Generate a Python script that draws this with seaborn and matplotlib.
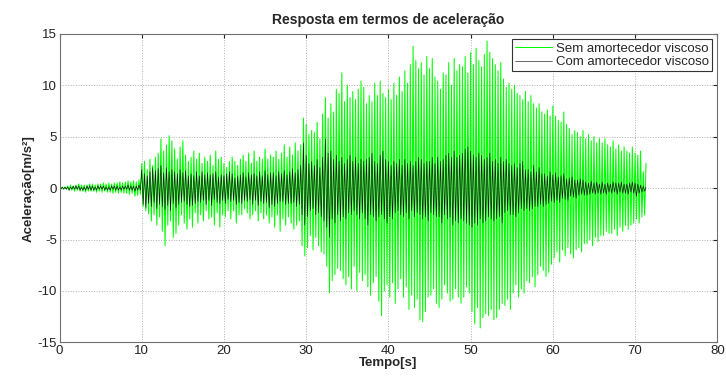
import numpy as np
import pandas as pd
import seaborn as sns
import matplotlib.pyplot as plt

# picos, 6 meios-ciclos por segundo (uma linha = 1 s)
sem_amort = [
    [0.0, -0.1, 0.1, -0.1, 0.1, -0.1],
    [0.2, -0.2, 0.3, -0.2, 0.2, -0.3],
    [0.3, -0.2, 0.4, -0.3, 0.3, -0.3],
    [0.3, -0.4, 0.3, -0.3, 0.4, -0.3],
    [0.4, -0.3, 0.3, -0.4, 0.4, -0.3],
    [0.4, -0.4, 0.5, -0.3, 0.4, -0.4],
    [0.5, -0.4, 0.4, -0.5, 0.5, -0.4],
    [0.5, -0.5, 0.6, -0.4, 0.5, -0.5],
    [0.6, -0.5, 0.7, -0.6, 0.6, -0.5],
    [0.7, -0.8, 0.6, -0.7, 0.8, -0.6],
    [2.4, -1.8, 2.6, -2.2, 1.8, -2.5],
    [2.8, -3.2, 2.2, -2.6, 3.0, -3.6],
    [3.4, -2.8, 4.8, -4.2, 3.6, -5.6],
    [4.2, -3.6, 5.1, -3.2, 4.6, -4.8],
    [3.8, -4.4, 2.8, -3.6, 4.0, -2.6],
    [4.6, -3.4, 3.2, -4.0, 2.6, -3.0],
    [3.0, -3.8, 3.6, -2.4, 2.8, -3.4],
    [3.4, -2.6, 2.4, -3.2, 3.0, -2.2],
    [2.6, -3.0, 3.2, -2.8, 2.2, -3.6],
    [3.6, -2.4, 2.8, -3.8, 3.0, -2.6],
    [2.4, -2.8, 2.0, -2.2, 2.6, -3.0],
    [3.0, -2.2, 2.6, -3.4, 2.2, -2.6],
    [2.8, -2.6, 3.2, -2.0, 2.6, -2.4],
    [3.4, -3.0, 2.4, -2.6, 3.6, -2.2],
    [2.6, -3.2, 3.0, -2.4, 2.8, -3.0],
    [3.8, -2.6, 2.8, -3.4, 3.2, -2.8],
    [3.0, -3.8, 3.6, -2.6, 2.8, -4.2],
    [3.4, -3.0, 4.2, -3.6, 3.0, -2.8],
    [4.0, -3.4, 3.2, -4.0, 4.4, -3.6],
    [3.6, -3.2, 4.2, -5.6, 6.8, -6.6],
    [6.2, -5.8, 5.2, -4.6, 5.6, -6.0],
    [5.4, -4.8, 6.4, -5.6, 4.8, -6.2],
    [7.2, -6.4, 8.8, -7.6, 6.8, -10.2],
    [8.2, -9.0, 7.4, -8.4, 9.6, -7.8],
    [9.2, -8.0, 11.2, -8.8, 8.4, -9.4],
    [10.0, -8.6, 8.8, -9.8, 9.4, -7.6],
    [8.6, -10.0, 9.6, -8.2, 10.4, -9.0],
    [9.8, -8.4, 8.2, -9.6, 9.0, -10.4],
    [8.4, -9.2, 10.2, -8.6, 9.0, -11.0],
    [10.4, -12.4, 9.2, -10.0, 8.8, -9.4],
    [9.6, -10.6, 8.6, -9.2, 10.2, -11.2],
    [9.0, -9.8, 10.8, -8.8, 9.4, -10.6],
    [11.4, -9.6, 10.2, -11.8, 12.0, -10.4],
    [13.8, -11.6, 12.4, -10.8, 11.6, -12.8],
    [12.2, -13.0, 11.0, -12.0, 12.8, -10.6],
    [11.6, -10.4, 12.6, -9.8, 10.8, -11.2],
    [10.4, -11.6, 9.6, -10.8, 11.2, -9.4],
    [11.0, -10.2, 12.2, -11.0, 10.0, -10.8],
    [12.6, -9.8, 11.4, -10.6, 12.0, -11.2],
    [11.8, -10.6, 12.8, -9.6, 11.2, -10.2],
    [13.2, -12.0, 12.0, -13.2, 13.6, -11.6],
    [12.4, -13.6, 11.8, -12.6, 13.0, -12.2],
    [14.3, -12.4, 13.2, -11.8, 12.6, -12.8],
    [12.0, -12.6, 11.4, -11.8, 12.2, -11.2],
    [10.6, -11.4, 9.8, -10.8, 10.2, -11.8],
    [9.6, -10.2, 10.0, -9.4, 9.2, -10.6],
    [9.0, -9.8, 8.6, -10.2, 9.4, -9.0],
    [8.4, -9.2, 9.0, -8.6, 8.2, -9.6],
    [7.8, -8.4, 8.2, -7.6, 7.4, -8.0],
    [7.2, -8.6, 7.6, -8.2, 7.0, -7.4],
    [8.0, -6.8, 7.0, -6.2, 6.6, -7.2],
    [6.4, -6.0, 7.4, -6.6, 6.2, -5.8],
    [5.8, -6.4, 5.2, -6.8, 5.6, -6.0],
    [5.4, -5.8, 5.0, -6.2, 5.6, -5.4],
    [4.8, -5.4, 5.2, -5.0, 4.6, -5.6],
    [5.0, -4.8, 4.4, -5.2, 4.8, -4.6],
    [4.4, -4.6, 4.8, -4.2, 4.2, -4.4],
    [4.0, -4.4, 4.6, -4.0, 3.8, -4.6],
    [4.2, -3.8, 3.6, -4.2, 4.0, -3.6],
    [3.6, -4.0, 3.4, -3.6, 4.0, -3.4],
    [3.4, -3.0, 3.2, -3.4, 3.6, -2.8],
    [1.6, -2.6, 2.4],
]

com_amort = [
    [0.0, -0.1, 0.1, -0.1, 0.1, -0.1],
    [0.1, -0.2, 0.1, -0.1, 0.2, -0.1],
    [0.2, -0.1, 0.2, -0.2, 0.1, -0.2],
    [0.1, -0.2, 0.2, -0.1, 0.2, -0.2],
    [0.2, -0.2, 0.1, -0.2, 0.2, -0.1],
    [0.2, -0.1, 0.2, -0.2, 0.1, -0.2],
    [0.1, -0.2, 0.2, -0.1, 0.2, -0.2],
    [0.2, -0.2, 0.1, -0.2, 0.2, -0.1],
    [0.2, -0.1, 0.3, -0.2, 0.2, -0.2],
    [0.2, -0.3, 0.2, -0.2, 0.3, -0.2],
    [1.8, -1.6, 1.4, -1.9, 1.2, -1.5],
    [1.6, -1.8, 2.0, -1.4, 1.7, -2.0],
    [1.9, -1.6, 2.2, -1.8, 1.5, -2.1],
    [2.0, -1.7, 1.6, -2.2, 1.8, -1.5],
    [1.6, -1.9, 1.4, -1.6, 1.8, -1.4],
    [1.5, -1.3, 1.7, -1.6, 1.2, -1.8],
    [1.4, -1.7, 1.2, -1.5, 1.6, -1.3],
    [1.2, -1.4, 1.6, -1.2, 1.3, -1.6],
    [1.5, -1.2, 1.3, -1.7, 1.4, -1.1],
    [1.6, -1.4, 1.1, -1.5, 1.3, -1.2],
    [1.2, -1.5, 1.4, -1.1, 1.6, -1.3],
    [1.4, -1.2, 1.0, -1.6, 1.2, -1.4],
    [1.3, -1.5, 1.5, -1.2, 1.1, -1.3],
    [1.5, -1.1, 1.3, -1.6, 1.4, -1.2],
    [1.2, -1.7, 1.6, -1.3, 1.2, -1.5],
    [1.7, -1.4, 1.3, -1.9, 1.5, -1.6],
    [1.5, -1.8, 1.2, -1.5, 1.6, -1.3],
    [1.4, -1.3, 1.7, -1.6, 1.3, -1.5],
    [1.6, -1.5, 1.9, -1.4, 1.5, -1.8],
    [1.8, -1.6, 2.2, -2.6, 4.4, -3.6],
    [3.2, -2.8, 2.4, -2.2, 2.6, -2.0],
    [2.2, -2.6, 2.8, -2.4, 2.0, -2.8],
    [3.0, -3.2, 4.8, -3.8, 3.4, -4.8],
    [3.6, -3.0, 2.8, -3.4, 3.2, -2.6],
    [2.6, -3.2, 3.0, -2.8, 2.4, -3.0],
    [2.8, -2.4, 3.2, -2.6, 2.6, -2.2],
    [3.0, -2.6, 2.4, -3.0, 2.8, -2.4],
    [2.6, -3.0, 2.8, -3.6, 3.0, -2.6],
    [3.4, -2.8, 2.6, -3.2, 2.4, -2.8],
    [3.2, -2.6, 3.6, -3.0, 2.8, -3.4],
    [2.6, -2.8, 2.2, -3.0, 2.6, -2.4],
    [2.4, -2.2, 2.8, -2.6, 2.2, -2.8],
    [2.8, -2.4, 2.4, -3.0, 2.6, -2.2],
    [2.2, -2.8, 2.6, -2.4, 3.0, -2.6],
    [2.8, -3.0, 2.4, -2.8, 2.6, -3.2],
    [2.6, -2.4, 3.0, -2.6, 2.4, -2.8],
    [3.0, -2.8, 2.6, -3.4, 2.8, -2.6],
    [3.2, -3.0, 3.4, -2.8, 3.0, -3.6],
    [3.6, -3.2, 3.0, -3.4, 3.2, -3.0],
    [3.4, -3.2, 3.8, -3.4, 4.0, -3.6],
    [3.6, -3.8, 3.2, -3.4, 3.0, -3.6],
    [3.4, -3.0, 3.2, -3.4, 2.8, -3.2],
    [3.0, -2.8, 3.4, -3.0, 2.6, -3.2],
    [2.8, -3.0, 2.4, -2.8, 3.0, -3.4],
    [2.6, -2.4, 2.8, -2.2, 2.4, -2.6],
    [2.2, -2.6, 2.4, -2.8, 2.0, -2.4],
    [2.4, -2.0, 2.6, -2.2, 1.8, -2.0],
    [1.8, -2.2, 1.6, -2.0, 2.2, -1.8],
    [1.6, -1.8, 2.0, -1.6, 1.4, -1.8],
    [1.4, -1.6, 1.2, -1.5, 1.6, -1.3],
    [1.3, -1.4, 1.5, -1.2, 1.1, -1.4],
    [1.2, -1.0, 1.4, -1.1, 0.9, -1.2],
    [1.0, -0.8, 1.1, -0.9, 0.8, -1.0],
    [0.8, -0.7, 0.9, -0.6, 0.8, -0.7],
    [0.6, -0.7, 0.5, -0.6, 0.7, -0.5],
    [0.5, -0.6, 0.6, -0.5, 0.4, -0.6],
    [0.6, -0.5, 0.4, -0.6, 0.5, -0.4],
    [0.4, -0.5, 0.6, -0.4, 0.5, -0.6],
    [0.5, -0.4, 0.6, -0.5, 0.4, -0.5],
    [0.4, -0.6, 0.5, -0.4, 0.6, -0.5],
    [0.5, -0.8, 0.4, -0.5, 0.3, -0.4],
    [0.2, -0.3, 0.1],
]

picos_por_s = 6
x_ticks = [0, 10, 20, 30, 40, 50, 60, 70, 80]
y_ticks = [-15, -10, -5, 0, 5, 10, 15]


def serie(linhas):
    y = np.concatenate([np.array(l) for l in linhas])
    t = np.arange(len(y)) / picos_por_s
    return pd.DataFrame({'t': t, 'a': y})


sns.set_style("whitegrid", {'grid.linestyle': ':', 'grid.color': '#b0b0b0',
                            'axes.edgecolor': '#707070'})
plt.rcParams['font.family'] = ['Liberation Sans', 'DejaVu Sans']
plt.rcParams['axes.unicode_minus'] = False

fig = plt.figure(figsize=(7.26, 3.8), dpi=100)
ax = fig.add_axes([0.082, 0.099, 0.906, 0.812])

df_sem = serie(sem_amort)
df_com = serie(com_amort)
sns.lineplot(data=df_sem, x='t', y='a', ax=ax, color='#00ff00', linewidth=0.75,
             estimator=None, sort=False, label='Sem amortecedor viscoso')
sns.lineplot(data=df_com, x='t', y='a', ax=ax, color='#111111', linewidth=0.45,
             estimator=None, sort=False, label='Com amortecedor viscoso')

ax.set_xlim(0, 80)
ax.set_ylim(-15, 15)
ax.set_xticks(x_ticks)
ax.set_yticks(y_ticks)
ax.tick_params(direction='in', length=3, labelsize=9.5, colors='#222222',
               top=True, right=True, pad=2)
for s in ax.spines.values():
    s.set_linewidth(0.8)
ax.grid(True, linewidth=0.7)

ax.set_title('Resposta em termos de aceleração', fontsize=10, fontweight='bold', pad=7)
ax.set_xlabel('Tempo[s]', fontsize=9.5, fontweight='bold', labelpad=0)
ax.set_ylabel('Aceleração[m/s²]', fontsize=9.5, fontweight='bold', labelpad=2)

leg = ax.legend(loc='upper right', fontsize=9.5, frameon=True, fancybox=False,
                borderaxespad=0.4, handlelength=2.8, borderpad=0.25,
                labelspacing=0.1, handletextpad=0.3)
leg.get_frame().set_edgecolor('#333333')
leg.get_frame().set_linewidth(0.8)
leg.get_frame().set_alpha(1)

fig.savefig('out.png', dpi=100)
